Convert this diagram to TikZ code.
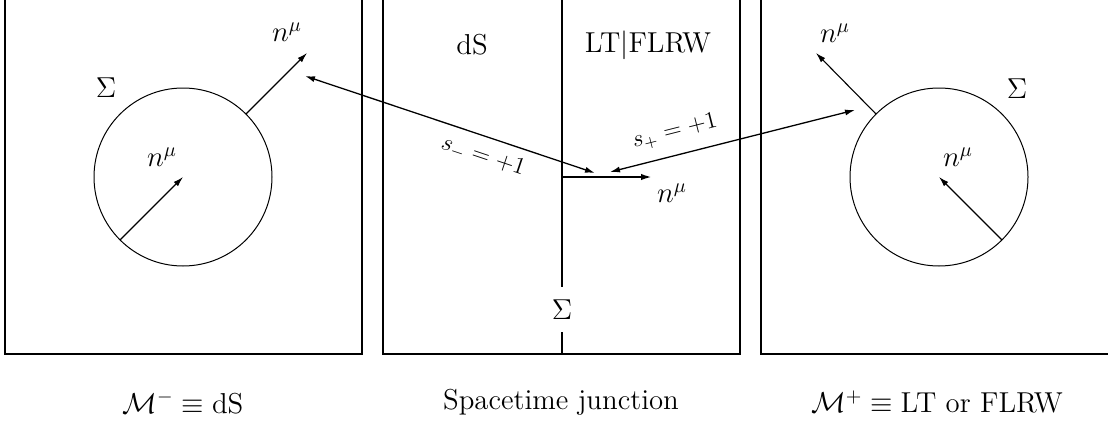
\documentclass[tikz,border=0pt]{standalone}
\usetikzlibrary{arrows.meta}
\begin{document}
\begin{tikzpicture}[x=0.5pt,y=-0.5pt,
  frame/.style={line width=1pt},
  ring/.style={circle,draw,line width=0.5pt,minimum size=89pt,inner sep=0pt,outer sep=0pt},
  vec/.style={line width=0.55pt,-{Latex[length=5pt,width=3pt]}},
  bvec/.style={line width=1pt,-{Latex[length=5.5pt,width=3.2pt]}},
  dvec/.style={line width=0.65pt,{Latex[length=5pt,width=3pt]}-{Latex[length=5pt,width=3pt]}},
  lbl/.style={font=\fontsize{14.4}{17}\selectfont,inner sep=0pt},
  slbl/.style={font=\fontsize{12}{14}\selectfont,inner sep=0pt},
]
\useasboundingbox (0,0) rectangle (1108,423);
\clip (0,0) rectangle (1108,423);
% frames
\draw[frame] (5,-10) -- (5,354) -- (362,354) -- (362,-10);
\draw[frame] (383,-10) -- (383,354) -- (740,354) -- (740,-10);
\draw[frame] (761,-10) -- (761,354) -- (1120,354);
% left panel
\node[ring] (cL) at (183,177) {};
\coordinate (tL) at (307,53);
\draw[vec] (cL.225) -- (cL.center);
\draw[vec] (cL.45) -- (tL);
\node[lbl] (nL1) at (162,157) {$n^\mu$};
\node[lbl] (nL2) at (287,32) {$n^\mu$};
\node[lbl] (sigL) at (106,88) {$\Sigma$};
\node[lbl] (capL) at (183,402) {$\mathcal{M}^-\equiv\mathrm{dS}$};
% right panel
\node[ring] (cR) at (939,177) {};
\coordinate (tR) at (816,53);
\draw[vec] (cR.315) -- (cR.center);
\draw[vec] (cR.135) -- (tR);
\node[lbl] (nR1) at (958,157) {$n^\mu$};
\node[lbl] (nR2) at (835,33) {$n^\mu$};
\node[lbl] (sigR) at (1017,89) {$\Sigma$};
\node[lbl] (capR) at (937,402) {$\mathcal{M}^+\equiv{}$LT or FLRW};
% middle panel
\node[lbl,minimum height=22.5pt] (sigM) at (562,309.5) {$\Sigma$};
\draw[frame] (562,-10) -- (sigM.north);
\draw[frame] (sigM.south) -- (562,354);
\coordinate (j) at (562,177);
\coordinate (nM) at (652,177);
\draw[bvec] (j) -- (nM);
\node[lbl] (nMl) at (672,193) {$n^\mu$};
\node[lbl] (dS) at (472,45) {dS};
\node[lbl] (LT) at (648,45) {LT$|$FLRW};
\node[lbl] (capM) at (561,402) {Spacetime junction};
% long arrows
\coordinate (a1s) at (305,76);
\coordinate (a1e) at (595,173);
\coordinate (a2s) at (610,172);
\coordinate (a2e) at (855,110);
\draw[dvec] (a1s) -- (a1e);
\draw[dvec] (a2s) -- (a2e);
\node[slbl,rotate=-18.5] (sm) at (483,157) {$s_- = +1$};
\node[slbl,rotate=14.2] (sp) at (675,132) {$s_+ = +1$};
\end{tikzpicture}
\end{document}
